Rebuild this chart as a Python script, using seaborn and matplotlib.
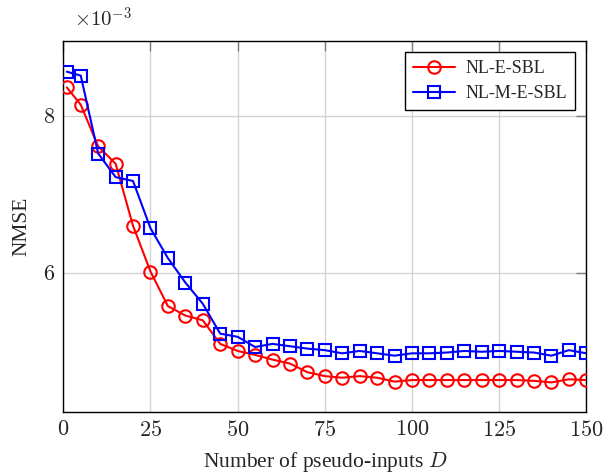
import matplotlib
matplotlib.use("Agg")
import matplotlib.pyplot as plt
import seaborn as sns
import pandas as pd
from matplotlib.ticker import FuncFormatter, MultipleLocator

# Number of pseudo-inputs D
pseudo_inputs = [1, 5, 10, 15, 20, 25, 30, 35, 40, 45, 50, 55, 60, 65, 70, 75,
                 80, 85, 90, 95, 100, 105, 110, 115, 120, 125, 130, 135, 140,
                 145, 150]

# NMSE values in units of 1e-3
nmse_nl_e_sbl = [8.36, 8.14, 7.61, 7.39, 6.60, 6.02, 5.58, 5.46, 5.40, 5.10,
                 5.01, 4.96, 4.90, 4.85, 4.74, 4.69, 4.67, 4.69, 4.67, 4.62,
                 4.64, 4.64, 4.64, 4.64, 4.64, 4.64, 4.64, 4.63, 4.61, 4.65,
                 4.64]
nmse_nl_m_e_sbl = [8.56, 8.51, 7.52, 7.22, 7.17, 6.57, 6.19, 5.88, 5.61, 5.23,
                   5.19, 5.06, 5.10, 5.07, 5.04, 5.02, 4.98, 5.01, 4.98, 4.95,
                   4.98, 4.98, 4.99, 5.01, 5.00, 5.01, 5.00, 4.99, 4.95, 5.02,
                   4.98]
scale = 1e-3

series_names = ["NL-E-SBL", "NL-M-E-SBL"]

sns.set_style("white")
plt.rcParams["font.family"] = ["Liberation Serif", "DejaVu Serif"]
plt.rcParams["mathtext.fontset"] = "cm"

fig = plt.figure(figsize=(6.03, 4.73), dpi=100)
ax = fig.add_axes([0.105, 0.1283, 0.8673, 0.785])

df_a = pd.DataFrame({"D": pseudo_inputs, "NMSE": [v * scale for v in nmse_nl_e_sbl]})
df_b = pd.DataFrame({"D": pseudo_inputs, "NMSE": [v * scale for v in nmse_nl_m_e_sbl]})

sns.lineplot(data=df_a, x="D", y="NMSE", ax=ax, color="red", lw=1.5,
             marker="o", ms=9, mfc="none", mec="red", mew=1.5,
             label=series_names[0], zorder=3)
sns.lineplot(data=df_b, x="D", y="NMSE", ax=ax, color="blue", lw=1.5,
             marker="s", ms=8.5, mfc="none", mec="blue", mew=1.5,
             label=series_names[1], zorder=3)

ax.set_xlim(0, 150)
ax.set_ylim(4.23e-3, 8.95e-3)
ax.xaxis.set_major_locator(MultipleLocator(25))
ax.yaxis.set_major_locator(MultipleLocator(2e-3))
ax.xaxis.set_major_formatter(FuncFormatter(lambda v, p: f"${v:g}$"))
ax.yaxis.set_major_formatter(FuncFormatter(lambda v, p: f"${v / scale:g}$"))

ax.grid(True, color="#d3d3d3", lw=1.0)
ax.set_axisbelow(True)
for s in ax.spines.values():
    s.set_color("black")
    s.set_linewidth(1.0)
ax.tick_params(direction="in", length=7, width=1.0, color="#808080",
               top=True, right=True, labelsize=16, pad=6)

ax.set_xlabel("Number of pseudo-inputs $D$", fontsize=15.5, labelpad=7)
ax.set_ylabel("NMSE", fontsize=15.5, labelpad=8)

fig.text(0.122, 0.958, r"$\times10^{-3}$", fontsize=15, ha="left", va="center")

leg = ax.legend(loc="upper right", fontsize=13, frameon=True, fancybox=False,
                edgecolor="black", framealpha=1, borderpad=0.45,
                handlelength=2.3, handletextpad=0.6, labelspacing=0.45,
                borderaxespad=0.6)
leg.get_frame().set_linewidth(1.0)

fig.savefig("out.png", dpi=100)
